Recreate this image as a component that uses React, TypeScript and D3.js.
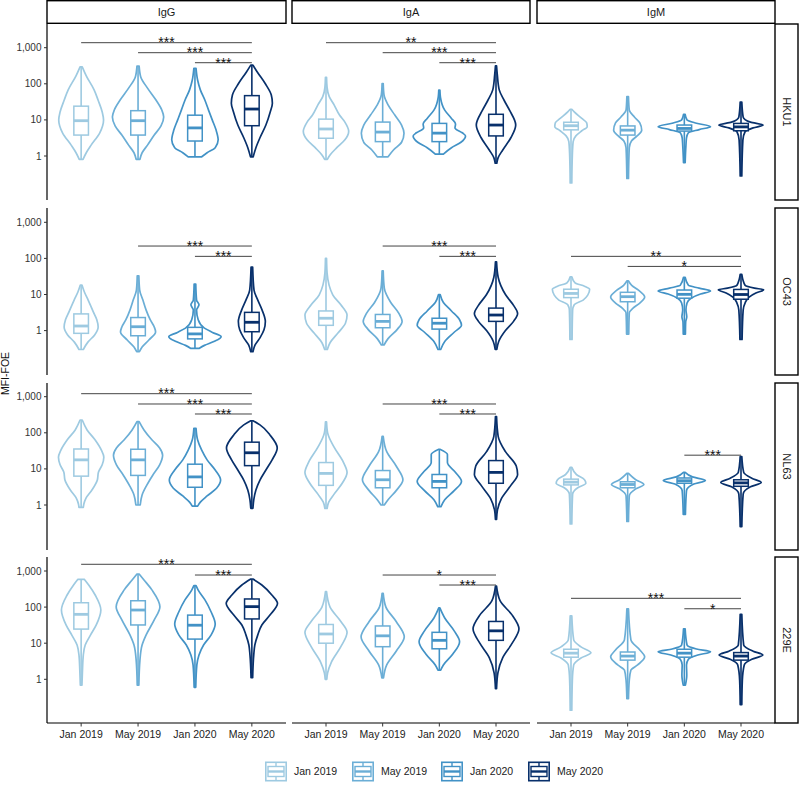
import React from "react";
import * as d3 from "d3";

const antibodies = ["IgG", "IgA", "IgM"];
const viruses = ["HKU1", "OC43", "NL63", "229E"];
const groups = ["Jan 2019", "May 2019", "Jan 2020", "May 2020"];
const groupColors = ["#9ecae1", "#6baed6", "#4292c6", "#08306b"];
const yTicks = [1, 10, 100, 1000];

type Prof = [number, number][];

// Violin outlines: [MFI-FOE value, relative density], from top to bottom; one per group
const HKU1_IgG: Prof[] = [
  [[295, 0.04], [166, 0.19], [68, 0.48], [35, 0.63], [16.6, 0.78], [10, 0.83], [4.4, 0.69], [2.0, 0.37], [1.23, 0.19], [0.81, 0.07]],
  [[310, 0.04], [155, 0.1], [76, 0.35], [35, 0.67], [18.8, 0.88], [12, 0.95], [6.8, 0.85], [3.8, 0.6], [2.0, 0.35], [1.23, 0.15], [0.81, 0.07]],
  [[270, 0.04], [125, 0.1], [68, 0.2], [35, 0.37], [19, 0.5], [10, 0.64], [5.3, 0.78], [2.8, 0.86], [1.7, 0.75], [1.23, 0.45], [0.95, 0.25]],
  [[330, 0.04], [213, 0.2], [100, 0.5], [49, 0.72], [29, 0.76], [16.6, 0.68], [7.2, 0.52], [3.2, 0.3], [1.7, 0.15], [0.95, 0.05]],
];
const HKU1_IgA: Prof[] = [
  [[152, 0.02], [80, 0.04], [44, 0.12], [26, 0.3], [13.6, 0.5], [8.7, 0.7], [4.8, 0.84], [2.8, 0.7], [1.7, 0.4], [1.07, 0.15], [0.81, 0.05]],
  [[102, 0.02], [49, 0.05], [26, 0.2], [13.6, 0.45], [7.2, 0.7], [4.3, 0.79], [2.4, 0.7], [1.47, 0.4], [0.95, 0.2]],
  [[67, 0.02], [43, 0.04], [18.6, 0.2], [11, 0.45], [7.7, 0.6], [6, 0.58], [4.4, 0.85], [3.6, 0.97], [2.4, 0.8], [1.7, 0.45], [1.13, 0.15]],
  [[316, 0.02], [173, 0.05], [68, 0.12], [35, 0.3], [18.6, 0.5], [7.2, 0.73], [3.2, 0.55], [1.47, 0.25], [0.9, 0.08], [0.63, 0.03]],
];
const HKU1_IgM: Prof[] = [
  [[19.7, 0.03], [16.6, 0.12], [11, 0.4], [8.3, 0.58], [6.5, 0.6], [5, 0.4], [3.6, 0.18], [2.5, 0.08], [1.07, 0.05], [0.18, 0.03]],
  [[44, 0.03], [18.6, 0.06], [12, 0.25], [8.3, 0.45], [5.2, 0.52], [3.6, 0.35], [2.6, 0.14], [1.7, 0.06], [0.24, 0.03]],
  [[14.3, 0.03], [10, 0.1], [8.1, 0.45], [6.5, 0.97], [5.4, 0.55], [4.4, 0.15], [3.2, 0.08], [2.0, 0.06], [0.65, 0.03]],
  [[31, 0.03], [12, 0.08], [8.7, 0.35], [7.2, 0.82], [6, 0.45], [4.7, 0.15], [2.8, 0.07], [0.28, 0.03]],
];
const OC43_IgG: Prof[] = [
  [[18.3, 0.03], [11.7, 0.12], [7, 0.26], [3.3, 0.45], [2, 0.58], [1.26, 0.63], [0.76, 0.5], [0.48, 0.25], [0.3, 0.08]],
  [[33, 0.03], [13.2, 0.06], [7, 0.18], [3.7, 0.3], [2, 0.45], [1.26, 0.6], [0.92, 0.65], [0.55, 0.4], [0.35, 0.15], [0.26, 0.05]],
  [[19.5, 0.03], [7, 0.06], [5.2, 0.15], [3.7, 0.06], [2, 0.12], [1.17, 0.35], [0.89, 0.65], [0.68, 0.97], [0.5, 0.7], [0.39, 0.35], [0.32, 0.15]],
  [[57, 0.03], [13.2, 0.08], [7, 0.22], [3.7, 0.38], [1.78, 0.5], [1.05, 0.45], [0.63, 0.3], [0.4, 0.12], [0.26, 0.04]],
];
const OC43_IgA: Prof[] = [
  [[100, 0.02], [40, 0.04], [9.8, 0.25], [5.2, 0.55], [2.7, 0.78], [1.6, 0.72], [0.87, 0.45], [0.46, 0.15], [0.3, 0.05]],
  [[45, 0.02], [15, 0.06], [6, 0.3], [3, 0.6], [1.8, 0.72], [1.1, 0.55], [0.6, 0.2], [0.4, 0.05]],
  [[10, 0.03], [6, 0.15], [3.5, 0.45], [2, 0.75], [1.4, 0.82], [0.9, 0.55], [0.5, 0.2], [0.3, 0.05]],
  [[80, 0.02], [30, 0.08], [10, 0.35], [5, 0.65], [3, 0.8], [1.8, 0.65], [1, 0.35], [0.5, 0.1], [0.3, 0.03]],
];
const OC43_IgM: Prof[] = [
  [[31, 0.03], [21, 0.15], [17, 0.5], [14, 0.69], [9.6, 0.62], [7, 0.45], [5.2, 0.12], [3.7, 0.06], [0.57, 0.04]],
  [[23.7, 0.03], [18, 0.15], [13.2, 0.4], [8.5, 0.63], [5.8, 0.45], [4.2, 0.2], [3.1, 0.06], [0.8, 0.04]],
  [[30, 0.03], [18, 0.15], [15, 0.55], [12.5, 0.97], [10.3, 0.6], [7.9, 0.25], [5.8, 0.1], [3.7, 0.06], [2.4, 0.09], [1.75, 0.05], [0.8, 0.04]],
  [[36, 0.03], [18, 0.15], [15, 0.5], [13.5, 0.84], [11, 0.55], [8.5, 0.3], [5.8, 0.15], [3.7, 0.08], [0.57, 0.04]],
];
const NL63_IgG: Prof[] = [
  [[226, 0.04], [120, 0.22], [63, 0.52], [33, 0.75], [21, 0.84], [13, 0.78], [8.1, 0.64], [4.9, 0.6], [2.6, 0.4], [1.56, 0.18], [1.07, 0.1], [0.86, 0.08]],
  [[204, 0.04], [120, 0.22], [63, 0.52], [38, 0.8], [24, 0.91], [13, 0.8], [6.8, 0.55], [3.5, 0.32], [1.9, 0.15], [1.0, 0.08]],
  [[133, 0.04], [63, 0.1], [33, 0.25], [17.8, 0.45], [9.3, 0.75], [4.9, 0.95], [2.9, 0.8], [1.78, 0.45], [1.2, 0.2], [0.93, 0.1]],
  [[216, 0.04], [166, 0.3], [87, 0.67], [38, 0.94], [17.8, 0.75], [9.3, 0.52], [4.9, 0.3], [2.6, 0.15], [1.38, 0.07], [0.81, 0.04]],
];
const NL63_IgA: Prof[] = [
  [[200, 0.02], [100, 0.06], [40, 0.3], [15, 0.65], [8, 0.78], [4, 0.6], [2, 0.3], [1.2, 0.1], [0.8, 0.04]],
  [[80, 0.02], [30, 0.15], [12, 0.5], [5, 0.75], [2.5, 0.5], [1.4, 0.2], [1.0, 0.06]],
  [[35, 0.02], [25, 0.3], [15, 0.3], [8, 0.6], [4.5, 0.82], [2.5, 0.55], [1.4, 0.2], [0.9, 0.06]],
  [[280, 0.02], [80, 0.08], [30, 0.35], [12, 0.75], [7, 0.8], [3.5, 0.55], [1.5, 0.2], [0.7, 0.05], [0.4, 0.02]],
];
const NL63_IgM: Prof[] = [
  [[11, 0.03], [7, 0.2], [5, 0.5], [4, 0.55], [3, 0.25], [2, 0.06], [0.3, 0.03]],
  [[7.5, 0.03], [5, 0.3], [3.7, 0.6], [2.8, 0.3], [1.8, 0.06], [0.35, 0.03]],
  [[8, 0.03], [6, 0.3], [4.8, 0.78], [3.8, 0.35], [2.5, 0.08], [0.55, 0.04]],
  [[22, 0.03], [8, 0.1], [5.5, 0.4], [4.2, 0.75], [3.2, 0.35], [2, 0.08], [0.25, 0.03]],
];
const E229_IgG: Prof[] = [
  [[588, 0.12], [410, 0.28], [216, 0.52], [83, 0.73], [32, 0.56], [17, 0.35], [8.9, 0.15], [4.7, 0.08], [1.8, 0.05], [0.69, 0.03]],
  [[825, 0.04], [563, 0.22], [295, 0.52], [102, 0.81], [44, 0.6], [17, 0.3], [8.9, 0.15], [3.4, 0.07], [0.69, 0.03]],
  [[392, 0.04], [295, 0.12], [158, 0.37], [73, 0.6], [34, 0.75], [17, 0.6], [8.9, 0.32], [4.7, 0.15], [2.5, 0.07], [0.6, 0.03]],
  [[600, 0.04], [410, 0.37], [216, 0.74], [127, 0.95], [60, 0.67], [32, 0.37], [17, 0.22], [8.9, 0.11], [4.7, 0.07], [1.11, 0.03]],
];
const E229_IgA: Prof[] = [
  [[270, 0.02], [100, 0.15], [40, 0.55], [20, 0.78], [8, 0.55], [3, 0.2], [1.5, 0.06], [1.0, 0.03]],
  [[240, 0.02], [100, 0.12], [40, 0.5], [15, 0.8], [6, 0.5], [2.5, 0.15], [1.1, 0.03]],
  [[95, 0.02], [50, 0.2], [22, 0.55], [11, 0.75], [5, 0.5], [2.5, 0.15], [1.8, 0.05]],
  [[380, 0.02], [150, 0.15], [60, 0.6], [25, 0.85], [10, 0.6], [4, 0.25], [1.5, 0.07], [0.55, 0.02]],
];
const E229_IgM: Prof[] = [
  [[57, 0.03], [12.3, 0.1], [7.9, 0.37], [5.4, 0.74], [3.9, 0.37], [2.5, 0.1], [0.95, 0.05], [0.14, 0.03]],
  [[89, 0.03], [12.3, 0.12], [6.5, 0.45], [4.2, 0.63], [2.5, 0.37], [1.8, 0.12], [0.95, 0.06], [0.29, 0.03]],
  [[25, 0.03], [8.9, 0.1], [6.9, 0.45], [5.8, 0.97], [4.7, 0.5], [3.6, 0.15], [2.5, 0.08], [1.3, 0.09], [0.69, 0.04]],
  [[63, 0.03], [8.9, 0.1], [6, 0.45], [4.7, 0.81], [3.6, 0.4], [2.5, 0.12], [0.95, 0.05], [0.2, 0.03]],
];

// Box stats per group: [Q1, median, Q3]
const HKU1_IgG_box = [[3.8, 9.5, 24], [3.8, 9.5, 18], [2.6, 6, 13.5], [6.9, 20, 47]];
const HKU1_IgA_box = [[3.1, 5.6, 10.5], [2.5, 4.6, 8.7], [2.5, 4.3, 8], [3.6, 7.2, 14.3]];
const HKU1_IgM_box = [[5.3, 6.9, 8.6], [3.8, 5.2, 6.8], [4.9, 5.8, 7.2], [5, 6.4, 8]];
const OC43_IgG_box = [[0.84, 1.34, 2.9], [0.72, 1.28, 2.3], [0.59, 0.81, 1.23], [0.93, 1.7, 3.2]];
const OC43_IgA_box = [[1.4, 2.2, 3.5], [1.2, 1.8, 2.8], [1.1, 1.6, 2.2], [1.8, 2.7, 4.2]];
const OC43_IgM_box = [[8.2, 10.7, 14], [6.3, 8.7, 11.5], [7.9, 10.1, 13.3], [7.4, 10, 13.8]];
const NL63_IgG_box = [[6.3, 17.8, 35.6], [6.6, 17.8, 35], [3.1, 6, 13.5], [12.3, 28, 55]];
const NL63_IgA_box = [[3.5, 7.5, 15], [3, 5, 9], [3, 4.5, 7], [4, 8, 17]];
const NL63_IgM_box = [[3.6, 4.3, 5.2], [3, 3.7, 4.4], [4, 4.7, 5.6], [3.3, 4.1, 5]];
const E229_IgG_box = [[24.6, 63, 132], [32, 83, 150], [13, 31.5, 60], [47, 103, 168]];
const E229_IgA_box = [[10, 18, 33], [8, 16, 30], [7, 12, 20], [12, 22, 40]];
const E229_IgM_box = [[4.1, 5.3, 6.8], [3.4, 4.4, 5.7], [4.1, 5.3, 6.8], [3.4, 4.4, 5.5]];

const violinTable: Record<string, Prof[]> = {
  "HKU1|IgG": HKU1_IgG, "HKU1|IgA": HKU1_IgA, "HKU1|IgM": HKU1_IgM,
  "OC43|IgG": OC43_IgG, "OC43|IgA": OC43_IgA, "OC43|IgM": OC43_IgM,
  "NL63|IgG": NL63_IgG, "NL63|IgA": NL63_IgA, "NL63|IgM": NL63_IgM,
  "229E|IgG": E229_IgG, "229E|IgA": E229_IgA, "229E|IgM": E229_IgM,
};
const boxTable: Record<string, number[][]> = {
  "HKU1|IgG": HKU1_IgG_box, "HKU1|IgA": HKU1_IgA_box, "HKU1|IgM": HKU1_IgM_box,
  "OC43|IgG": OC43_IgG_box, "OC43|IgA": OC43_IgA_box, "OC43|IgM": OC43_IgM_box,
  "NL63|IgG": NL63_IgG_box, "NL63|IgA": NL63_IgA_box, "NL63|IgM": NL63_IgM_box,
  "229E|IgG": E229_IgG_box, "229E|IgA": E229_IgA_box, "229E|IgM": E229_IgM_box,
};

// Significance brackets: [virus, antibody, from, to, y value, label]
const significance: [string, string, string, string, number, string][] = [
  ["HKU1", "IgG", "Jan 2019", "May 2020", 1376, "***"],
  ["HKU1", "IgG", "May 2019", "May 2020", 727, "***"],
  ["HKU1", "IgG", "Jan 2020", "May 2020", 384, "***"],
  ["HKU1", "IgA", "Jan 2019", "May 2020", 1376, "**"],
  ["HKU1", "IgA", "May 2019", "May 2020", 727, "***"],
  ["HKU1", "IgA", "Jan 2020", "May 2020", 384, "***"],
  ["OC43", "IgG", "May 2019", "May 2020", 220, "***"],
  ["OC43", "IgG", "Jan 2020", "May 2020", 114, "***"],
  ["OC43", "IgA", "May 2019", "May 2020", 220, "***"],
  ["OC43", "IgA", "Jan 2020", "May 2020", 114, "***"],
  ["OC43", "IgM", "Jan 2019", "May 2020", 114, "**"],
  ["OC43", "IgM", "May 2019", "May 2020", 60, "*"],
  ["NL63", "IgG", "Jan 2019", "May 2020", 1211, "***"],
  ["NL63", "IgG", "May 2019", "May 2020", 628, "***"],
  ["NL63", "IgG", "Jan 2020", "May 2020", 332, "***"],
  ["NL63", "IgA", "May 2019", "May 2020", 628, "***"],
  ["NL63", "IgA", "Jan 2020", "May 2020", 332, "***"],
  ["NL63", "IgM", "Jan 2020", "May 2020", 24, "***"],
  ["229E", "IgG", "Jan 2019", "May 2020", 1534, "***"],
  ["229E", "IgG", "Jan 2020", "May 2020", 774, "***"],
  ["229E", "IgA", "May 2019", "May 2020", 774, "*"],
  ["229E", "IgA", "Jan 2020", "May 2020", 409, "***"],
  ["229E", "IgM", "Jan 2019", "May 2020", 175, "***"],
  ["229E", "IgM", "Jan 2020", "May 2020", 90, "*"],
];

// ---- layout ----
const W = 799;
const H = 785;
const FONT = "'Liberation Sans', Arial, Helvetica, sans-serif";
const colX: [number, number][] = [[47, 286], [292, 530], [537, 775]];
const rowY1000 = [47.7, 222.3, 396.7, 571];
const DECADE = 36.1;
const rowTop = [24, 208, 383, 557];
const rowBottom = [200, 375, 550, 723];
const STRIP_TOP = 0.7;
const STRIP_BOTTOM = 23.3;
const RIGHT_STRIP = [775, 798];
const legendX = [265, 352, 441, 528];
const legendY = 761.5;

const widthScale = d3.scaleLinear().domain([0, 1]).range([0, 27]);
const BOX_HALF = 7.3;

function Key({ x, y, color }: { x: number; y: number; color: string }) {
  const w = 22, h = 20;
  const cx = x + w / 2;
  return (
    <g>
      <rect x={x + 0.8} y={y + 0.8} width={w - 1.6} height={h - 1.6} fill="white" stroke={color} strokeWidth={1.6} />
      <rect x={x + 3} y={y + 5} width={w - 6} height={h - 10} fill="white" stroke={color} strokeWidth={1.4} />
      <line x1={x + 3} x2={x + w - 3} y1={y + h / 2} y2={y + h / 2} stroke={color} strokeWidth={2.4} />
      <line x1={cx} x2={cx} y1={y + 0.8} y2={y + 5} stroke={color} strokeWidth={1.4} />
      <line x1={cx} x2={cx} y1={y + h - 5} y2={y + h - 0.8} stroke={color} strokeWidth={1.4} />
    </g>
  );
}

export default function App() {
  const panels: React.ReactNode[] = [];

  viruses.forEach((virus, r) => {
    const y = d3.scaleLog().domain([0.1, 1000]).range([rowY1000[r] + 4 * DECADE, rowY1000[r]]);
    antibodies.forEach((ab, c) => {
      const x = d3.scalePoint<string>().domain(groups).range(colX[c]).padding(0.6);
      const key = `${virus}|${ab}`;
      const profs = violinTable[key];
      const boxes = boxTable[key];
      const items: React.ReactNode[] = [];
      groups.forEach((g, gi) => {
        const cx = x(g) as number;
        const color = groupColors[gi];
        const prof = profs[gi];
        const area = d3
          .area<[number, number]>()
          .y((d) => y(d[0]))
          .x0((d) => cx - widthScale(d[1]))
          .x1((d) => cx + widthScale(d[1]))
          .curve(d3.curveMonotoneY);
        const [q1, med, q3] = boxes[gi];
        const vmax = prof[0][0];
        const vmin = prof[prof.length - 1][0];
        items.push(
          <g key={g}>
            <path d={area(prof) || ""} fill="white" stroke={color} strokeWidth={1.7} strokeLinejoin="round" />
            <line x1={cx} x2={cx} y1={y(vmax)} y2={y(q3)} stroke={color} strokeWidth={1.6} />
            <line x1={cx} x2={cx} y1={y(q1)} y2={y(vmin)} stroke={color} strokeWidth={1.6} />
            <rect x={cx - BOX_HALF} y={y(q3)} width={BOX_HALF * 2} height={y(q1) - y(q3)} fill="white" stroke={color} strokeWidth={1.5} />
            <line x1={cx - BOX_HALF} x2={cx + BOX_HALF} y1={y(med)} y2={y(med)} stroke={color} strokeWidth={2.8} />
          </g>
        );
      });
      significance
        .filter((s) => s[0] === virus && s[1] === ab)
        .forEach((s, si) => {
          const x1 = x(s[2]) as number;
          const x2 = x(s[3]) as number;
          const yy = y(s[4]);
          items.push(
            <g key={"sig" + si}>
              <line x1={x1} x2={x2} y1={yy} y2={yy} stroke="#444" strokeWidth={1} />
              <text x={(x1 + x2) / 2} y={yy + 4.8} textAnchor="middle" fontSize={14} fill="#111" fontFamily={FONT}>
                {s[5]}
              </text>
            </g>
          );
        });
      // y axis (left column only)
      if (c === 0) {
        items.push(
          <g key="yaxis">
            <line x1={colX[0][0]} x2={colX[0][0]} y1={rowTop[r]} y2={rowBottom[r]} stroke="black" strokeWidth={1.2} />
            {yTicks.map((t) => (
              <g key={t}>
                <line x1={colX[0][0] - 3} x2={colX[0][0]} y1={y(t)} y2={y(t)} stroke="#333" strokeWidth={1} />
                <text x={colX[0][0] - 5.5} y={y(t)} dy="0.35em" textAnchor="end" fontSize={10} fill="#333" fontFamily={FONT}>
                  {d3.format(",")(t)}
                </text>
              </g>
            ))}
          </g>
        );
      }
      // x axis (bottom row only)
      if (r === viruses.length - 1) {
        items.push(
          <g key="xaxis">
            <line x1={colX[c][0]} x2={colX[c][1]} y1={rowBottom[r]} y2={rowBottom[r]} stroke="black" strokeWidth={1.2} />
            {groups.map((g) => (
              <g key={g}>
                <line x1={x(g)} x2={x(g)} y1={rowBottom[r]} y2={rowBottom[r] + 3.5} stroke="#333" strokeWidth={1} />
                <text x={x(g)} y={rowBottom[r] + 15} textAnchor="middle" fontSize={10.5} fill="#222" fontFamily={FONT}>
                  {g}
                </text>
              </g>
            ))}
          </g>
        );
      }
      panels.push(<g key={key}>{items}</g>);
    });
  });

  return (
    <svg width={W} height={H} style={{ position: "absolute", left: 0, top: 0, background: "white" }} fontFamily={FONT}>
      <rect x={0} y={0} width={W} height={H} fill="white" />
      {/* top strips */}
      {antibodies.map((ab, c) => (
        <g key={ab}>
          <rect x={colX[c][0]} y={STRIP_TOP} width={colX[c][1] - colX[c][0]} height={STRIP_BOTTOM - STRIP_TOP} fill="white" stroke="black" strokeWidth={1.4} />
          <text x={(colX[c][0] + colX[c][1]) / 2} y={(STRIP_TOP + STRIP_BOTTOM) / 2} dy="0.35em" textAnchor="middle" fontSize={11} fill="#1a1a1a">
            {ab}
          </text>
        </g>
      ))}
      {/* right strips */}
      {viruses.map((v, r) => (
        <g key={v}>
          <rect x={RIGHT_STRIP[0]} y={rowTop[r]} width={RIGHT_STRIP[1] - RIGHT_STRIP[0]} height={rowBottom[r] - rowTop[r]} fill="white" stroke="black" strokeWidth={1.4} />
          <text
            transform={`translate(${(RIGHT_STRIP[0] + RIGHT_STRIP[1]) / 2},${(rowTop[r] + rowBottom[r]) / 2}) rotate(90)`}
            dy="0.35em"
            textAnchor="middle"
            fontSize={11}
            fill="#1a1a1a"
          >
            {v}
          </text>
        </g>
      ))}
      {panels}
      {/* y title */}
      <text transform={`translate(8.5,${(rowTop[0] + rowBottom[3]) / 2}) rotate(-90)`} textAnchor="middle" fontSize={10.5} fill="#111">
        MFI-FOE
      </text>
      {/* legend */}
      {groups.map((g, gi) => (
        <g key={g}>
          <Key x={legendX[gi]} y={legendY} color={groupColors[gi]} />
          <text x={legendX[gi] + 29} y={legendY + 10} dy="0.35em" fontSize={10.5} fill="#222">
            {g}
          </text>
        </g>
      ))}
    </svg>
  );
}
